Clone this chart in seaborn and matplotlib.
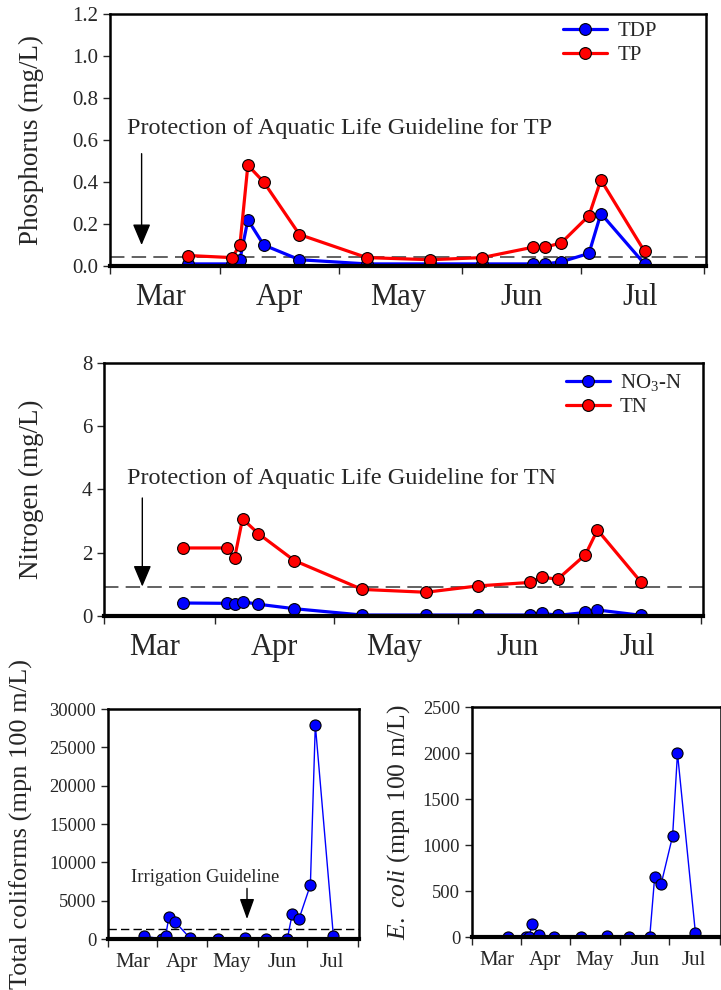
import pandas as pd
import seaborn as sns
import matplotlib
matplotlib.use("Agg")
import matplotlib.pyplot as plt

# sampling dates shared by all four panels
dates = ['2007-03-24', '2007-04-04', '2007-04-06', '2007-04-08', '2007-04-12',
         '2007-04-21', '2007-05-08', '2007-05-24', '2007-06-06', '2007-06-19',
         '2007-06-22', '2007-06-26', '2007-07-03', '2007-07-06', '2007-07-17']

# phosphorus (mg/L)
tdp = [0.01, 0.01, 0.03, 0.22, 0.10, 0.03, 0.01, 0.01, 0.01, 0.01, 0.01, 0.02, 0.06, 0.25, 0.01]
tp = [0.05, 0.04, 0.10, 0.48, 0.40, 0.15, 0.04, 0.03, 0.04, 0.09, 0.09, 0.11, 0.24, 0.41, 0.07]
tp_guideline = 0.042

# nitrogen (mg/L)
no3n = [0.41, 0.40, 0.37, 0.45, 0.37, 0.23, 0.03, 0.03, 0.03, 0.03, 0.09, 0.02, 0.11, 0.19, 0.02]
tn = [2.15, 2.15, 1.83, 3.07, 2.60, 1.75, 0.84, 0.75, 0.95, 1.06, 1.23, 1.16, 1.94, 2.72, 1.06]
tn_guideline = 0.92

# bacteria (mpn 100 m/L)
coliforms = [350, 20, 350, 2870, 2170, 90, 20, 130, 20, 40, 3300, 2570, 7040, 27950, 350]
coli_guideline = 1300
ecoli = [2, 2, 5, 145, 20, 2, 2, 7, 2, 3, 650, 578, 1097, 1999, 44]

df = pd.DataFrame({'date': pd.to_datetime(dates), 'TDP': tdp, 'TP': tp,
                   'NO3-N': no3n, 'TN': tn, 'coliforms': coliforms, 'ecoli': ecoli})

sns.set_style("ticks")
plt.rcParams['font.family'] = ['Liberation Serif', 'DejaVu Serif']
plt.rcParams['mathtext.fontset'] = 'custom'
plt.rcParams['mathtext.rm'] = 'Liberation Serif'
plt.rcParams['mathtext.it'] = 'Liberation Serif:italic'

fig = plt.figure(figsize=(7.21, 9.90), dpi=100)
ax1 = fig.add_axes([0.1526, 0.7313, 0.8266, 0.2545])
ax2 = fig.add_axes([0.1442, 0.3778, 0.831, 0.2556])
ax3 = fig.add_axes([0.1498, 0.0515, 0.348, 0.2323])
ax4 = fig.add_axes([0.6546, 0.0535, 0.345, 0.2323])

months = pd.to_datetime(['2007-04-01', '2007-05-01', '2007-06-01', '2007-07-01', '2007-08-01'])
mid_months = pd.to_datetime(['2007-03-17', '2007-04-16', '2007-05-16', '2007-06-16', '2007-07-16'])
month_names = ['Mar', 'Apr', 'May', 'Jun', 'Jul']


def style_axis(ax, start, month_size, tick_size, pad):
    xmin, xmax = pd.Timestamp(start), pd.Timestamp('2007-08-01 12:00')
    ax.set_xlim(xmin, xmax)
    ax.set_xticks([xmin] + list(months))
    ax.set_xticklabels([])
    ax.set_xticks(mid_months, minor=True)
    ax.set_xticklabels(month_names, minor=True)
    ax.tick_params(axis='x', which='minor', length=0, labelsize=month_size, pad=pad)
    ax.tick_params(axis='x', which='major', length=6, width=1, direction='out')
    ax.tick_params(axis='y', length=5, width=1, direction='out', labelsize=tick_size)
    for s in ax.spines.values():
        s.set_visible(True)
        s.set_linewidth(1.8)
        s.set_color('black')
    ax.spines['bottom'].set_linewidth(3)
    ax.set_xlabel('')


def guide_arrow(ax, x, y0, y1, head='head_length=1.3,head_width=0.55'):
    ax.annotate('', xy=(x, y1), xytext=(x, y0),
                xycoords=('axes fraction', 'data'), textcoords=('axes fraction', 'data'),
                arrowprops=dict(arrowstyle='-|>,' + head,
                                color='black', lw=1, shrinkA=0, shrinkB=0))


big_line = dict(marker='o', markersize=8.5, markeredgecolor='black',
                markeredgewidth=0.8, linewidth=2.3)
leg_kw = dict(loc='upper left', frameon=False, fontsize=15, handlelength=2.1,
              handletextpad=0.5, borderpad=0, borderaxespad=0, labelspacing=0.22)

# Phosphorus panel
ax1.axhline(tp_guideline, color='#555555', lw=1.3, dashes=(8, 4), zorder=1)
sns.lineplot(data=df, x='date', y='TDP', ax=ax1, color='#0000ff',
             markerfacecolor='#0000ff', label='TDP', **big_line)
sns.lineplot(data=df, x='date', y='TP', ax=ax1, color='#ff0000',
             markerfacecolor='#ff0000', label='TP', **big_line)
ax1.set_ylim(0, 1.2)
ax1.set_yticks([0, 0.2, 0.4, 0.6, 0.8, 1.0, 1.2])
ax1.yaxis.set_major_formatter(plt.FormatStrFormatter('%.1f'))
style_axis(ax1, '2007-03-04 06:00', 22, 15, 12)
ax1.set_ylabel('Phosphorus (mg/L)', fontsize=19.5)
ax1.yaxis.set_label_coords(-0.11, 0.5)
ax1.text(0.028, 0.655, 'Protection of Aquatic Life Guideline for TP',
         transform=ax1.get_yaxis_transform(), fontsize=17.5, va='center', ha='left')
guide_arrow(ax1, 0.053, 0.535, 0.1)
ax1.legend(bbox_to_anchor=(0.76, 0.97), **leg_kw)

# Nitrogen panel
ax2.axhline(tn_guideline, color='#555555', lw=1.3, dashes=(8, 4), zorder=1)
sns.lineplot(data=df, x='date', y='NO3-N', ax=ax2, color='#0000ff',
             markerfacecolor='#0000ff', label='NO$_3$-N', **big_line)
sns.lineplot(data=df, x='date', y='TN', ax=ax2, color='#ff0000',
             markerfacecolor='#ff0000', label='TN', **big_line)
ax2.set_ylim(0, 8)
ax2.set_yticks([0, 2, 4, 6, 8])
style_axis(ax2, '2007-03-04 06:00', 22, 15, 12)
ax2.set_ylabel('Nitrogen (mg/L)', fontsize=19.5)
ax2.yaxis.set_label_coords(-0.1, 0.5)
ax2.text(0.038, 4.36, 'Protection of Aquatic Life Guideline for TN',
         transform=ax2.get_yaxis_transform(), fontsize=17.5, va='center', ha='left')
guide_arrow(ax2, 0.064, 3.73, 0.93)
ax2.legend(bbox_to_anchor=(0.771, 0.964), **leg_kw)

small_line = dict(marker='o', markersize=8, markeredgecolor='black',
                  markeredgewidth=0.8, linewidth=1, color='#0000ff',
                  markerfacecolor='#0000ff')

# Total coliforms panel
ax3.axhline(coli_guideline, color='black', lw=1, dashes=(6, 3), zorder=1)
sns.lineplot(data=df, x='date', y='coliforms', ax=ax3, **small_line)
ax3.set_ylim(0, 30000)
ax3.set_yticks(range(0, 30001, 5000))
style_axis(ax3, '2007-03-02', 15, 13.3, 10)
ax3.set_ylabel('Total coliforms (mpn 100 m/L)', fontsize=19)
ax3.yaxis.set_label_coords(-0.3, 0.5)
ax3.text(0.386, 7960, 'Irrigation Guideline', transform=ax3.get_yaxis_transform(),
         fontsize=13.3, va='center', ha='center')
guide_arrow(ax3, 0.554, 6600, 2600, head='head_length=1.25,head_width=0.45')

# E. coli panel
sns.lineplot(data=df, x='date', y='ecoli', ax=ax4, **small_line)
ax4.set_ylim(0, 2500)
ax4.set_yticks(range(0, 2501, 500))
style_axis(ax4, '2007-03-02', 15, 13.3, 10)
ax4.set_ylabel(r'$\mathit{E.\ coli}$ (mpn 100 m/L)', fontsize=18.5)
ax4.yaxis.set_label_coords(-0.241, 0.5)

fig.savefig('out.png', dpi=100)
